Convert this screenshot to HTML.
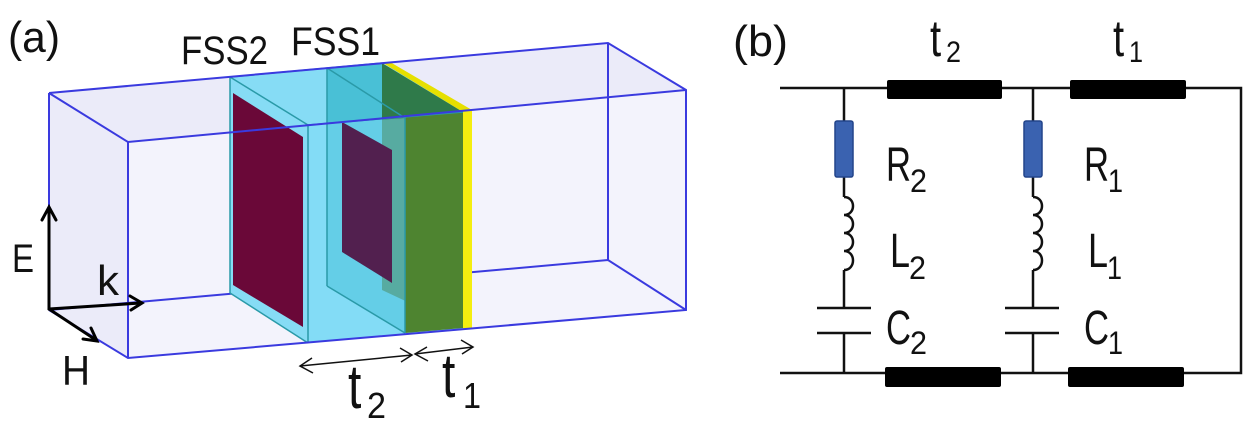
<!DOCTYPE html>
<html><head><meta charset="utf-8"><style>
html,body{margin:0;padding:0;background:#fff;}
svg{display:block;}
text{font-family:"Liberation Sans",sans-serif;fill:#111;}
</style></head><body>
<svg width="1255" height="431" viewBox="0 0 1255 431" xmlns="http://www.w3.org/2000/svg">
<!-- (a) -->
<text x="8" y="52" font-size="44" textLength="52" lengthAdjust="spacingAndGlyphs">(a)</text>
<text x="181" y="64" font-size="40" textLength="87" lengthAdjust="spacingAndGlyphs">FSS2</text>
<text x="291" y="55" font-size="40" textLength="89" lengthAdjust="spacingAndGlyphs">FSS1</text>

<polygon points="49,93 608,43 686,90 686,310 128,358 49,310" fill="#ebebf9"/>
<polygon points="128,142 686,90 686,310 128,358" fill="#f3f3fc"/>
<g stroke="#3a3adf" stroke-width="2" fill="none">
<polyline points="49,310 608,260 686,310"/>
<line x1="608" y1="43" x2="608" y2="260"/>
<line x1="49" y1="93" x2="49" y2="310"/>
</g>

<polygon points="230,77 382,63 472,110 463,112 463,330 308,343 230,293" fill="#86dcf5"/>
<polygon points="327,68 382,63 405,115 405,333 327,286" fill="#49c0d6"/>
<polygon points="233,93 303,137 303,327 233,285" fill="#6a0838"/>
<polygon points="382,63 463,112 463,328 382,290" fill="#2f7a4a"/>
<polygon points="405,115 463,112 463,328 405,333" fill="#4e8430"/>
<polygon points="308,125 405,118 405,333 308,343" fill="#7fdcf7" opacity="0.5"/>
<polygon points="342,122 392,150 392,283 342,252" fill="#52204f"/>
<polygon points="383,63 390,62 472,110 463,112" fill="#e6e000"/>
<rect x="463" y="111" width="9" height="218" fill="#f4ee10"/>
<g stroke="#2a9aa8" stroke-width="1.5" fill="none">
<polyline points="230,293 230,77 382,63"/>
<line x1="230" y1="77" x2="308" y2="125"/>
<line x1="230" y1="293" x2="308" y2="343"/>
<line x1="327" y1="68" x2="405" y2="118"/>
<line x1="327" y1="68" x2="327" y2="286"/>
<line x1="327" y1="286" x2="405" y2="333"/>
<line x1="308" y1="125" x2="308" y2="343"/>
<line x1="405" y1="115" x2="405" y2="333"/>
<line x1="308" y1="125" x2="463" y2="112"/>
</g>

<g stroke="#3a3adf" stroke-width="2" fill="none">
<polyline points="49,93 608,43 686,90 686,310 128,358 49,310"/>
<polyline points="49,93 128,142 686,90"/>
<line x1="128" y1="142" x2="128" y2="358"/>
</g>

<g stroke="#000" stroke-width="3" fill="none" stroke-linecap="round">
<line x1="49" y1="309" x2="49" y2="208"/>
<polyline points="42,220 49,207 56,220"/>
<line x1="49" y1="309" x2="141" y2="303"/>
<polyline points="130,296 142,303 131,310"/>
<line x1="49" y1="309" x2="96" y2="340"/>
<polyline points="83,339 97,341 91,328"/>
</g>
<text x="12" y="272" font-size="40" textLength="22" lengthAdjust="spacingAndGlyphs">E</text>
<text x="97" y="295" font-size="42" textLength="22" lengthAdjust="spacingAndGlyphs">k</text>
<text x="62" y="385" font-size="42" textLength="28" lengthAdjust="spacingAndGlyphs">H</text>

<g stroke="#111" stroke-width="1.5" fill="none">
<line x1="300" y1="366" x2="412" y2="355"/>
<polyline points="312,358 300,366 313,373"/>
<polyline points="400,348 412,355 401,362"/>
<line x1="415" y1="354" x2="473" y2="347"/>
<polyline points="427,347 415,354 428,361"/>
<polyline points="461,340 473,347 462,354"/>
</g>
<g transform="translate(348,408) scale(1,1.3)"><text x="0" y="0" font-size="48">t</text></g>
<text x="367" y="418" font-size="36" textLength="19" lengthAdjust="spacingAndGlyphs">2</text>
<g transform="translate(442,397) scale(1,1.3)"><text x="0" y="0" font-size="48">t</text></g>
<text x="463" y="408" font-size="36" textLength="18" lengthAdjust="spacingAndGlyphs">1</text>

<text x="733" y="56" font-size="44" textLength="55" lengthAdjust="spacingAndGlyphs">(b)</text>
<g transform="translate(930,56) scale(1,1.3)"><text x="0" y="0" font-size="40">t</text></g>
<text x="946" y="62" font-size="30" textLength="15" lengthAdjust="spacingAndGlyphs">2</text>
<g transform="translate(1113,56) scale(1,1.3)"><text x="0" y="0" font-size="40">t</text></g>
<text x="1129" y="62" font-size="30" textLength="14" lengthAdjust="spacingAndGlyphs">1</text>

<g stroke="#111" stroke-width="2.5" fill="none">
<polyline points="780,88 1241,88 1241,373 780,373"/>
<line x1="844" y1="88" x2="844" y2="197"/>
<line x1="844" y1="270" x2="844" y2="308"/>
<line x1="844" y1="333" x2="844" y2="373"/>
<line x1="1033" y1="88" x2="1033" y2="197"/>
<line x1="1033" y1="270" x2="1033" y2="308"/>
<line x1="1033" y1="333" x2="1033" y2="373"/>
<line x1="817" y1="308" x2="871" y2="308"/>
<line x1="817" y1="333" x2="871" y2="333"/>
<line x1="1005" y1="308" x2="1059" y2="308"/>
<line x1="1005" y1="333" x2="1059" y2="333"/>
<path d="M844,197 c12,0 12,18 0,18 c12,0 12,18 0,18 c12,0 12,18 0,18 c12,0 12,19 0,19"/>
<path d="M1033,197 c12,0 12,18 0,18 c12,0 12,18 0,18 c12,0 12,18 0,18 c12,0 12,19 0,19"/>
</g>
<g fill="#000">
<rect x="887" y="80" width="115" height="19" rx="2"/>
<rect x="1070" y="80" width="116" height="19" rx="2"/>
<rect x="885" y="367" width="116" height="20" rx="2"/>
<rect x="1068" y="367" width="116" height="20" rx="2"/>
</g>
<rect x="835" y="121" width="18" height="56" rx="2" fill="#3a62b0" stroke="#22448a" stroke-width="1.5"/>
<rect x="1024" y="121" width="18" height="56" rx="2" fill="#3a62b0" stroke="#22448a" stroke-width="1.5"/>

<g font-size="48">
<text x="886" y="181" textLength="25" lengthAdjust="spacingAndGlyphs">R</text>
<text x="1084" y="181" textLength="25" lengthAdjust="spacingAndGlyphs">R</text>
<text x="890" y="267" textLength="20" lengthAdjust="spacingAndGlyphs">L</text>
<text x="1088" y="267" textLength="20" lengthAdjust="spacingAndGlyphs">L</text>
<text x="886" y="344" textLength="25" lengthAdjust="spacingAndGlyphs">C</text>
<text x="1084" y="344" textLength="25" lengthAdjust="spacingAndGlyphs">C</text>
</g>
<g font-size="32">
<text x="910" y="192" textLength="17" lengthAdjust="spacingAndGlyphs">2</text>
<text x="1108" y="192" textLength="15" lengthAdjust="spacingAndGlyphs">1</text>
<text x="909" y="279" textLength="17" lengthAdjust="spacingAndGlyphs">2</text>
<text x="1107" y="279" textLength="15" lengthAdjust="spacingAndGlyphs">1</text>
<text x="910" y="354" textLength="17" lengthAdjust="spacingAndGlyphs">2</text>
<text x="1108" y="354" textLength="15" lengthAdjust="spacingAndGlyphs">1</text>
</g>
</svg>
</body></html>
